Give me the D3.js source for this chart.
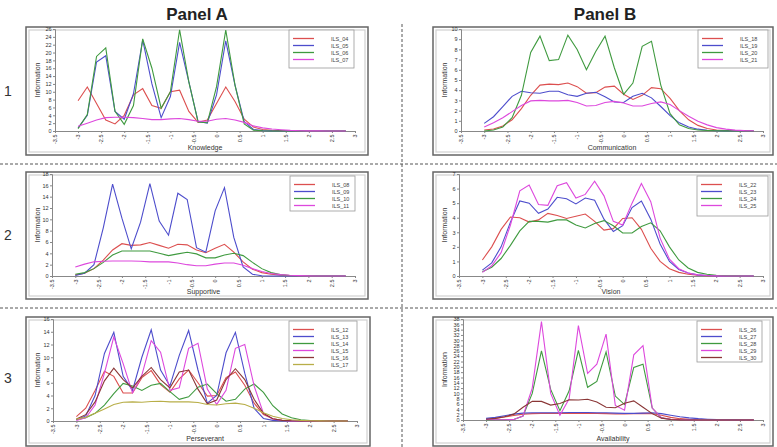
<!DOCTYPE html>
<html><head><meta charset="utf-8">
<script src="https://cdn.jsdelivr.net/npm/d3@7/dist/d3.min.js"></script>
<style>
body{margin:0;background:#fff;}
svg{display:block;font-family:"Liberation Sans",Arial,sans-serif;}
</style></head><body>
<svg id="c" width="777" height="447"></svg>
<script>
const theta = [-3,-2.8,-2.6,-2.4,-2.2,-2,-1.8,-1.6,-1.4,-1.2,-1,-0.8,-0.6,-0.4,-0.2,0,0.2,0.4,0.6,0.8,1,1.2,1.4,1.6,1.8,2,2.2,2.4,2.6,2.8];
const xTicks = [-3.5,-3,-2.5,-2,-1.5,-1,-0.5,0,0.5,1,1.5,2,2.5,3];

// Panel A1 – Knowledge
const ILS_04 = [7.7,11.2,7.0,2.8,1.8,4.0,9.2,10.8,6.5,5.8,10.0,10.4,5.0,2.2,2.8,7.0,11.2,7.5,3.0,1.0,0.4,0.2,0.1,0.05,0.02,0.01,0,0,0,0];
const ILS_05 = [0.8,4.0,17.6,19.2,5.0,3.0,9.5,23.2,12.0,3.4,8.8,22.6,12.5,2.4,2.0,9.2,23.0,11.7,2.4,0.4,0.1,0.02,0,0,0,0,0,0,0,0];
const ILS_06 = [0.6,4.2,19.0,21.2,5.0,1.7,6.5,23.5,16.0,5.8,10.0,25.8,12.5,2.3,2.1,11.3,25.7,11.7,1.8,0.2,0.05,0.01,0,0,0,0,0,0,0,0];
const ILS_07 = [1.2,2.0,2.8,3.4,3.5,3.5,3.4,3.2,2.9,2.9,3.1,3.2,2.9,2.5,2.5,3.0,3.2,2.8,2.2,1.3,0.8,0.5,0.3,0.15,0.08,0.04,0.02,0.01,0,0];
// Panel B1 – Communication
const ILS_18 = [0.1,0.2,0.5,1.1,2.2,3.5,4.5,4.6,4.55,4.7,4.35,3.7,3.75,4.3,4.4,3.6,3.1,3.5,4.25,4.15,3.2,2.0,1.1,0.55,0.25,0.1,0.05,0.02,0.01,0];
const ILS_19 = [0.75,1.4,2.4,3.4,3.9,3.75,3.7,3.9,3.9,3.55,3.4,3.7,3.8,3.35,2.85,2.8,3.4,3.7,3.25,2.4,1.5,0.8,0.4,0.18,0.08,0.03,0.01,0,0,0];
const ILS_20 = [0.0,0.1,0.4,1.3,3.5,7.7,9.3,6.9,7.0,9.4,8.0,6.0,7.8,9.3,6.2,3.6,4.7,8.3,8.8,4.5,1.7,0.6,0.25,0.1,0.05,0.02,0.01,0,0,0];
const ILS_21 = [0.4,0.8,1.3,1.9,2.5,2.95,3.0,2.95,2.95,3.0,2.8,2.45,2.5,2.8,2.9,2.75,2.45,2.45,2.7,2.85,2.6,2.0,1.45,0.95,0.6,0.33,0.18,0.09,0.04,0.02];
// Panel A2 – Supportive
const ILS_08 = [0.2,0.5,1.3,2.8,4.6,5.7,5.4,5.5,5.9,5.4,4.9,5.6,5.5,4.6,4.1,4.9,5.6,4.2,2.5,1.2,0.6,0.3,0.15,0.06,0.03,0.01,0,0,0,0];
const ILS_09 = [0.1,0.5,2.0,8.5,16.2,10.2,4.8,9.5,16.3,9.7,7.2,14.6,13.5,5.0,4.2,11.5,15.6,6.8,1.6,0.3,0.05,0.01,0,0,0,0,0,0,0,0];
const ILS_10 = [0.3,0.6,1.3,2.4,3.7,4.4,4.4,4.4,4.4,4.0,3.6,3.9,4.2,3.9,3.2,3.2,3.7,4.0,3.6,2.4,1.3,0.6,0.25,0.1,0.04,0.02,0.01,0,0,0];
const ILS_11 = [1.6,2.1,2.5,2.6,2.65,2.65,2.65,2.6,2.5,2.5,2.5,2.3,2.0,1.8,1.8,2.1,2.3,2.3,1.9,1.3,0.8,0.45,0.25,0.12,0.06,0.03,0.01,0,0,0];
// Panel B2 – Vision
const ILS_22 = [1.1,2.0,3.2,4.05,4.0,3.7,3.85,4.3,4.15,3.95,4.1,4.25,3.75,3.15,3.25,3.95,4.0,3.2,1.9,1.0,0.5,0.25,0.12,0.05,0.02,0.01,0,0,0,0];
const ILS_23 = [0.4,0.9,2.0,3.7,5.15,5.0,4.3,4.6,5.4,5.3,4.95,5.35,5.2,3.9,3.05,3.45,4.7,5.15,3.9,2.2,1.0,0.45,0.2,0.08,0.03,0.01,0,0,0,0];
const ILS_24 = [0.3,0.6,1.2,2.1,3.1,3.75,3.75,3.7,3.85,3.85,3.5,3.3,3.6,3.8,3.45,2.95,2.95,3.4,3.65,3.1,2.0,1.1,0.55,0.25,0.12,0.05,0.02,0.01,0,0];
const ILS_25 = [0.25,0.7,1.6,3.5,5.85,6.25,4.9,4.85,6.2,6.4,5.35,5.6,6.5,5.5,3.75,3.5,5.0,6.35,5.1,2.6,1.15,0.5,0.2,0.08,0.03,0.01,0,0,0,0];
// Panel A3 – Perseverant
const ILS_12 = [0.7,2.0,4.8,7.8,7.0,4.4,4.4,6.8,7.9,5.7,4.5,6.6,8.0,6.0,3.9,4.0,6.8,7.7,5.6,2.8,1.0,0.35,0.1,0.03,0.01,0,0,0,0,0];
const ILS_13 = [0.2,0.8,4.0,10.6,13.9,7.0,4.8,10.0,14.3,8.0,5.5,10.3,14.2,8.0,2.8,4.0,10.7,13.9,7.5,2.0,0.4,0.1,0.02,0,0,0,0,0,0,0];
const ILS_14 = [0.2,0.5,1.2,2.5,4.3,5.9,5.5,4.8,5.6,5.9,4.6,3.4,3.8,5.3,5.8,4.3,3.1,3.4,5.0,5.8,4.5,2.4,1.1,0.5,0.2,0.08,0.03,0.01,0,0];
const ILS_15 = [0.1,0.5,2.5,7.5,13.2,9.0,4.4,7.2,12.6,10.8,4.8,5.2,11.4,12.2,5.0,2.6,4.8,11.4,12.0,5.5,1.2,0.3,0.08,0.02,0,0,0,0,0,0];
const ILS_16 = [0.3,1.0,3.0,6.3,8.3,6.5,5.2,7.0,8.4,6.5,5.2,7.7,8.0,5.0,2.7,3.3,6.5,8.2,6.5,3.4,1.2,0.35,0.1,0.03,0.01,0,0,0,0,0];
const ILS_17 = [0.3,0.6,1.2,1.9,2.6,2.95,3.0,2.95,3.05,3.1,3.0,3.0,3.0,2.9,2.6,2.5,2.7,2.8,2.6,2.0,1.3,0.75,0.4,0.2,0.1,0.05,0.02,0.01,0,0];
// Panel B3 – Availability
const ILS_26 = [0.3,0.6,1.1,1.7,2.2,2.4,2.5,2.5,2.5,2.5,2.5,2.5,2.5,2.4,2.3,2.3,2.4,2.5,2.4,1.8,1.0,0.5,0.25,0.1,0.05,0.02,0.01,0,0,0];
const ILS_27 = [0.6,1.0,1.6,2.2,2.6,2.7,2.7,2.7,2.75,2.8,2.8,2.8,2.75,2.7,2.6,2.5,2.5,2.6,2.7,2.4,1.8,1.2,0.8,0.5,0.3,0.15,0.08,0.04,0.02,0.01];
const ILS_28 = [0.1,0.05,0.05,0.2,1.5,10.0,26.0,11.5,3.5,11.0,26.2,12.3,14.5,25.6,9.0,5.8,19.8,21.0,4.5,0.8,0.3,0.1,0.03,0.01,0,0,0,0,0,0];
const ILS_29 = [0.2,0.1,0.1,0.2,1.5,12.0,37.0,10.0,1.8,8.0,35.5,17.5,21.0,32.3,5.5,3.7,24.5,28.0,4.5,0.8,0.3,0.1,0.03,0.01,0,0,0,0,0,0];
const ILS_30 = [0.3,0.6,1.2,2.2,4.8,7.0,7.0,5.6,6.2,7.6,7.5,7.8,6.8,4.8,4.6,6.3,7.2,4.8,2.4,0.7,0.2,0.05,0.02,0,0,0,0,0,0,0];

const C = {red:"#dc4f4f", blue:"#4d4dcc", green:"#3f9a3f", magenta:"#dd48dd", brown:"#8a3636", olive:"#b8ae48"};

const panels = [
 {frame:[26,27,368,155], px:[55,355], py:[131,29], ymax:26, ystep:2, xlabel:"Knowledge", legend:[289,30,354,68],
  series:[["ILS_04",ILS_04,C.red],["ILS_05",ILS_05,C.blue],["ILS_06",ILS_06,C.green],["ILS_07",ILS_07,C.magenta]]},
 {frame:[433,27,773,155], px:[461,763], py:[131,29], ymax:10, ystep:1, xlabel:"Communication", legend:[698,30,768,68],
  series:[["ILS_18",ILS_18,C.red],["ILS_19",ILS_19,C.blue],["ILS_20",ILS_20,C.green],["ILS_21",ILS_21,C.magenta]]},
 {frame:[26,172,368,299], px:[52,355], py:[276,174], ymax:18, ystep:2, xlabel:"Supportive", legend:[290,176,355,211],
  series:[["ILS_08",ILS_08,C.red],["ILS_09",ILS_09,C.blue],["ILS_10",ILS_10,C.green],["ILS_11",ILS_11,C.magenta]]},
 {frame:[433,172,773,299], px:[459,763], py:[276,174], ymax:7, ystep:1, xlabel:"Vision", legend:[697,176,768,216],
  series:[["ILS_22",ILS_22,C.red],["ILS_23",ILS_23,C.blue],["ILS_24",ILS_24,C.green],["ILS_25",ILS_25,C.magenta]]},
 {frame:[26,317,370,446], px:[53,357], py:[421,319], ymax:16, ystep:2, xlabel:"Perseverant", legend:[289,321,357,371],
  series:[["ILS_12",ILS_12,C.red],["ILS_13",ILS_13,C.blue],["ILS_14",ILS_14,C.green],["ILS_15",ILS_15,C.magenta],["ILS_16",ILS_16,C.brown],["ILS_17",ILS_17,C.olive]]},
 {frame:[433,317,773,446], px:[463,763], py:[420,319], ymax:38, ystep:2, xlabel:"Availability", legend:[697,321,762,362],
  series:[["ILS_26",ILS_26,C.red],["ILS_27",ILS_27,C.blue],["ILS_28",ILS_28,C.green],["ILS_29",ILS_29,C.magenta],["ILS_30",ILS_30,C.brown]]}
];

const svg = d3.select("#c");

// titles
svg.append("text").attr("x",197).attr("y",20).attr("text-anchor","middle")
  .attr("font-size",17).attr("font-weight","bold").attr("fill","#222").text("Panel A");
svg.append("text").attr("x",605).attr("y",20).attr("text-anchor","middle")
  .attr("font-size",17).attr("font-weight","bold").attr("fill","#222").text("Panel B");

// separators
[164,308].forEach(y=>svg.append("line").attr("x1",0).attr("x2",777).attr("y1",y).attr("y2",y)
  .attr("stroke","#555").attr("stroke-width",1).attr("stroke-dasharray","3,2"));
svg.append("line").attr("x1",402).attr("x2",402).attr("y1",24).attr("y2",447)
  .attr("stroke","#555").attr("stroke-width",1).attr("stroke-dasharray","3,2");

// row labels
[["1",96],["2",240],["3",383]].forEach(([t,y])=>svg.append("text").attr("x",8).attr("y",y)
  .attr("text-anchor","middle").attr("font-size",14).attr("fill","#333").text(t));

panels.forEach(p=>{
  const [fx0,fy0,fx1,fy1] = p.frame;
  const g = svg.append("g");
  g.append("rect").attr("x",fx0).attr("y",fy0).attr("width",fx1-fx0).attr("height",fy1-fy0)
    .attr("fill","#fff").attr("stroke","#666").attr("stroke-width",1.5);
  g.append("rect").attr("x",fx0+3).attr("y",fy0+3).attr("width",fx1-fx0-6).attr("height",fy1-fy0-6)
    .attr("fill","none").attr("stroke","#d0d0d0").attr("stroke-width",1.2);

  const x = d3.scaleLinear().domain([-3.5,3]).range(p.px);
  const y = d3.scaleLinear().domain([0,p.ymax]).range(p.py);
  const yTicks = d3.range(0,p.ymax+0.001,p.ystep);

  const ya = g.append("g").attr("transform",`translate(${p.px[0]},0)`)
    .call(d3.axisLeft(y).tickValues(yTicks).tickSize(2).tickPadding(1.5).tickFormat(d3.format("d")));
  ya.selectAll("text").attr("font-size",5.5).attr("fill","#333");
  ya.select(".domain").attr("stroke","#888");
  ya.selectAll(".tick line").attr("stroke","#888");

  const xa = g.append("g").attr("transform",`translate(0,${p.py[0]})`)
    .call(d3.axisBottom(x).tickValues(xTicks).tickSize(2).tickFormat(d=>String(d)));
  xa.selectAll("text").attr("font-size",5.5).attr("fill","#333")
    .attr("transform","rotate(-90)").attr("text-anchor","end").attr("dy","0.32em").attr("x",-3.5).attr("y",0);
  xa.select(".domain").attr("stroke","#888");
  xa.selectAll(".tick line").attr("stroke","#888");

  g.append("text").attr("x",(p.px[0]+p.px[1])/2).attr("y",fy1-5).attr("text-anchor","middle")
    .attr("font-size",7).attr("fill","#333").text(p.xlabel);
  g.append("text").attr("transform",`translate(${fx0+14},${(p.py[0]+p.py[1])/2}) rotate(-90)`)
    .attr("text-anchor","middle").attr("font-size",7).attr("fill","#333").text("Information");

  const line = d3.line().x((d,i)=>x(theta[i])).y(d=>y(d));
  p.series.forEach(([name,vals,col])=>{
    g.append("path").datum(vals).attr("d",line).attr("fill","none")
      .attr("stroke",col).attr("stroke-width",1.1);
  });

  const [lx0,ly0,lx1,ly1] = p.legend;
  g.append("rect").attr("x",lx0).attr("y",ly0).attr("width",lx1-lx0).attr("height",ly1-ly0)
    .attr("fill","#fff").attr("stroke","#999").attr("stroke-width",0.8);
  p.series.forEach(([name,vals,col],i)=>{
    const yy = ly0+8.5+i*7;
    g.append("line").attr("x1",lx0+4).attr("x2",lx0+25).attr("y1",yy).attr("y2",yy)
      .attr("stroke",col).attr("stroke-width",1.3);
    g.append("text").attr("x",lx0+42).attr("y",yy+2).attr("font-size",5.5).attr("fill","#444").text(name);
  });
});
</script>
</body></html>
